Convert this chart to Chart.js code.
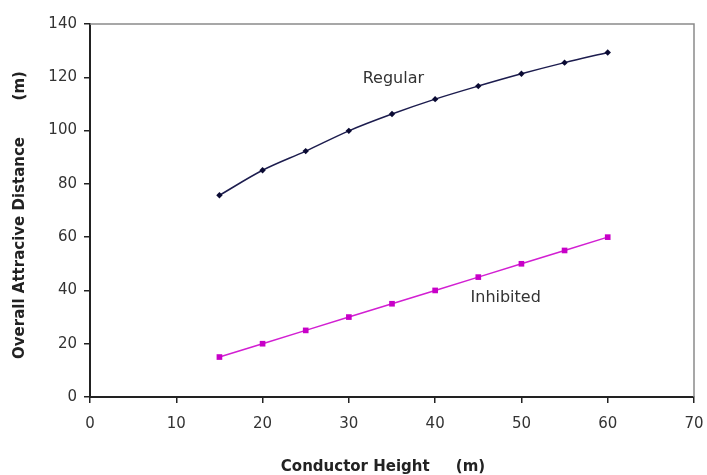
<!DOCTYPE html>
<html>
<head>
<meta charset="utf-8">
<script src="https://cdn.jsdelivr.net/npm/chart.js"></script>
<style>
  html, body { margin: 0; padding: 0; background: #fff; }
  #wrap { width: 707px; height: 475px; }
</style>
</head>
<body>
<div id="wrap"><canvas id="myChart" width="707" height="475"></canvas></div>
<script>
// conductor height (m)
const heights = [15, 20, 25, 30, 35, 40, 45, 50, 55, 60];
// overall attractive distance (m)
const regular = [75.7, 85.1, 92.3, 99.9, 106.2, 111.8, 116.7, 121.3, 125.5, 129.3];
const inhibited = [15, 20, 25, 30, 35, 40, 45, 50, 55, 60];
const xTicks = [0, 10, 20, 30, 40, 50, 60, 70];
const yTicks = [0, 20, 40, 60, 80, 100, 120, 140];

const xTitle = 'Conductor Height     (m)';
const yTitle = 'Overall Attracive Distance       (m)';

// series names written beside the curves, placed in data units
const seriesLabels = [
  { text: 'Regular', x: 31.6, y: 119.3 },
  { text: 'Inhibited', x: 44.1, y: 37.1 }
];

const toPoints = (xs, ys) => xs.map((x, i) => ({ x: x, y: ys[i] }));
const FAMILY = '"DejaVu Sans", Verdana, sans-serif';

// grey frame on top and right, curve names and axis titles
const framePlugin = {
  id: 'frame',
  afterDraw(chart) {
    const { ctx, chartArea: a, scales } = chart;
    ctx.save();
    ctx.strokeStyle = '#8a8a8a';
    ctx.lineWidth = 1.5;
    ctx.beginPath();
    ctx.moveTo(a.left, a.top);
    ctx.lineTo(a.right, a.top);
    ctx.lineTo(a.right, a.bottom);
    ctx.stroke();

    ctx.fillStyle = '#333';
    ctx.font = '16px ' + FAMILY;
    ctx.textBaseline = 'middle';
    ctx.textAlign = 'left';
    seriesLabels.forEach(l => {
      ctx.fillText(l.text, scales.x.getPixelForValue(l.x), scales.y.getPixelForValue(l.y));
    });

    ctx.fillStyle = '#222';
    ctx.font = 'bold 15px ' + FAMILY;
    ctx.textAlign = 'center';
    ctx.fillText(xTitle, 383, 467);

    ctx.translate(20, 215);
    ctx.rotate(-Math.PI / 2);
    ctx.fillText(yTitle, 0, 0);
    ctx.restore();
  }
};

const tickFont = { family: FAMILY, size: 15 };

new Chart(document.getElementById('myChart'), {
  type: 'line',
  data: {
    datasets: [{
      label: 'Regular',
      data: toPoints(heights, regular),
      borderColor: '#1c1c4e',
      backgroundColor: '#0a0a33',
      borderWidth: 1.5,
      pointStyle: 'rectRot',
      pointRadius: 3.2,
      pointBorderWidth: 0,
      cubicInterpolationMode: 'monotone'
    }, {
      label: 'Inhibited',
      data: toPoints(heights, inhibited),
      borderColor: '#d21fd2',
      backgroundColor: '#c800c8',
      borderWidth: 1.5,
      pointStyle: 'rect',
      pointRadius: 4,
      pointBorderWidth: 0
    }]
  },
  options: {
    responsive: false,
    animation: false,
    layout: { padding: { top: 24, right: 13, left: 0, bottom: 0 } },
    plugins: {
      legend: { display: false },
      tooltip: { enabled: false }
    },
    scales: {
      x: {
        type: 'linear',
        min: 0,
        max: 70,
        afterBuildTicks: s => { s.ticks = xTicks.map(v => ({ value: v })); },
        afterFit: s => { s.height = 78; s.paddingLeft = 0; s.paddingRight = 0; },
        grid: { drawOnChartArea: false, drawTicks: true, tickLength: 6, color: '#222', lineWidth: 1.5 },
        border: { color: '#222', width: 2 },
        ticks: { color: '#333', font: tickFont, padding: 12, maxRotation: 0 }
      },
      y: {
        min: 0,
        max: 140,
        afterBuildTicks: s => { s.ticks = yTicks.map(v => ({ value: v })); },
        afterFit: s => { s.width = 90; s.paddingTop = 0; s.paddingBottom = 0; },
        grid: { drawOnChartArea: false, drawTicks: true, tickLength: 6, color: '#222', lineWidth: 1.5 },
        border: { color: '#222', width: 2 },
        ticks: { color: '#333', font: tickFont, padding: 7 }
      }
    }
  },
  plugins: [framePlugin]
});
</script>
</body>
</html>
